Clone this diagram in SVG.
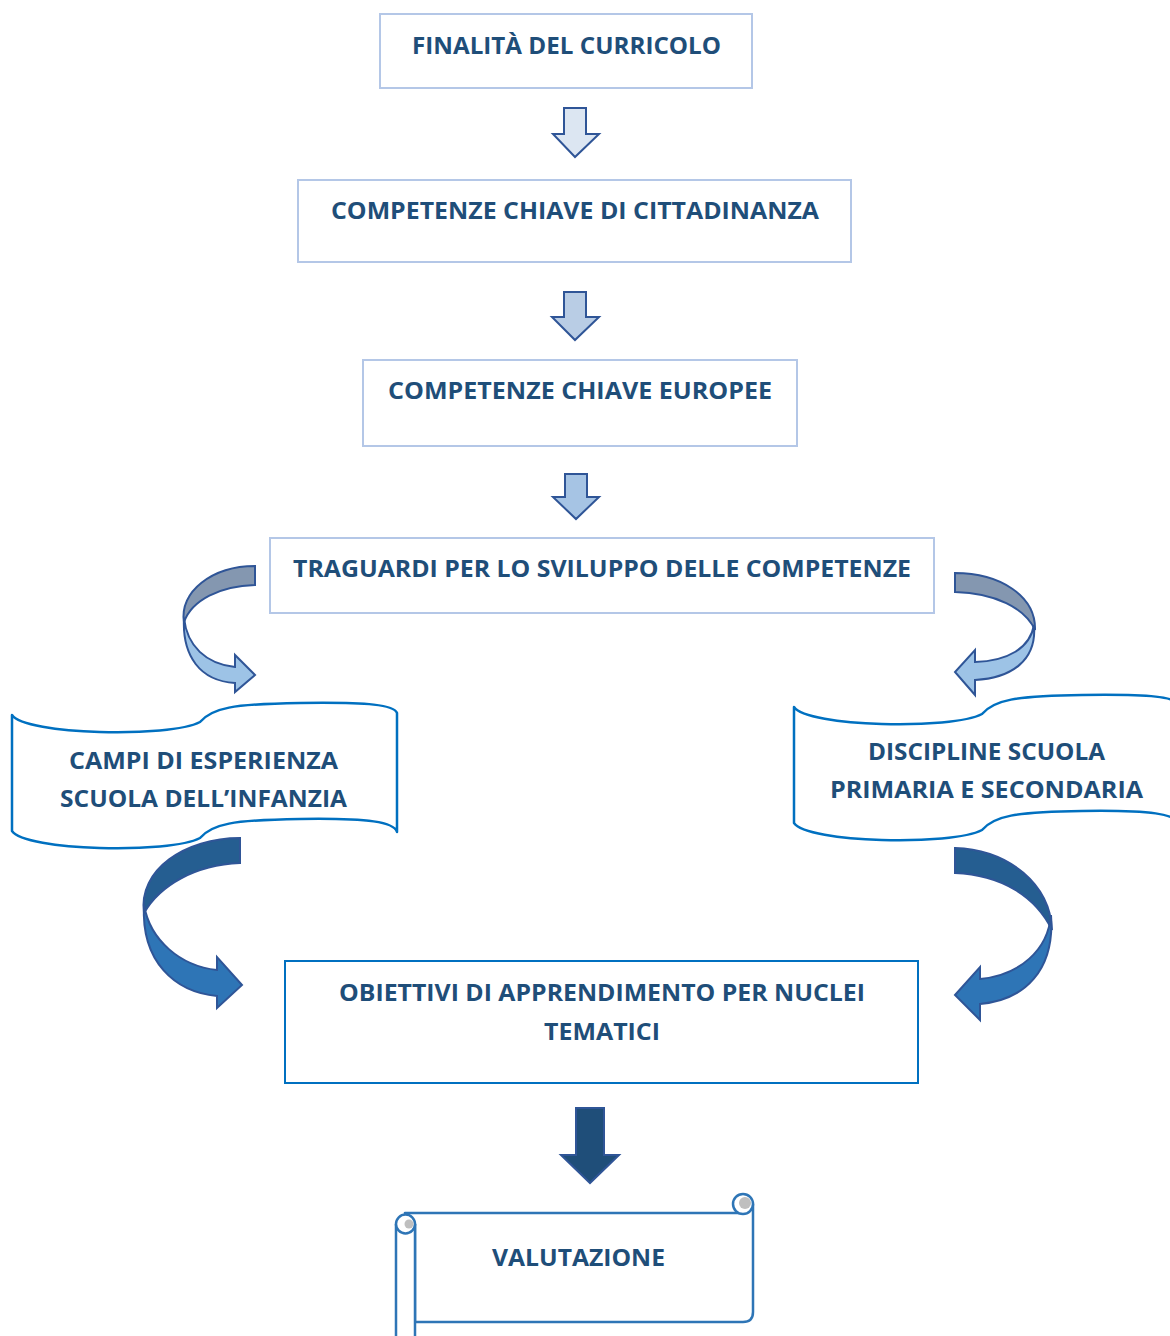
<svg xmlns="http://www.w3.org/2000/svg" width="1170" height="1336" viewBox="0 0 1170 1336">
<defs>
<style>
.lbl{font-family:"Open Sans",Lato,"Liberation Sans",sans-serif;font-weight:bold;font-size:23px;fill:#1F4E79;text-anchor:middle}
.box{fill:#fff;stroke:#B4C7E7;stroke-width:2}
.box2{fill:#fff;stroke:#0070C0;stroke-width:2}
.wave{fill:#fff;stroke:#0070C0;stroke-width:2.5;stroke-linejoin:round}
.arr{stroke:#2F5597;stroke-width:2;stroke-linejoin:miter}
.scroll{fill:#fff;stroke:#2E75B6;stroke-width:2.5;stroke-linejoin:round}
</style>
<path id="wavePath" d="M12,715 C25,735 170,738 200,722 C212,708 232,704 300,703 C370,702 394,705 397,713 L397,832 C394,822 370,818 300,819 C232,820 212,824 200,838 C170,854 25,851 12,831 Z"/>
</defs>
<rect width="1170" height="1336" fill="#fff"/>

<g id="connectors">
<path class="arr" fill="#DCE6F2" d="M564,108 L586,108 L586,134 L599,134 L575,157 L553,134 L564,134 Z"/>
<path class="arr" fill="#B9CDE5" d="M564,292 L586,292 L586,317 L599,317 L575,340 L552,317 L564,317 Z"/>
<path class="arr" fill="#A6C4E4" d="M565,474 L587,474 L587,497 L599,497 L576,519 L553,497 L565,497 Z"/>
<path class="arr" fill="#1F4E79" d="M576,1108 L604,1108 L604,1155 L619,1155 L590,1183 L561,1155 L576,1155 Z"/>

<path class="arr" fill="#8497B0" d="M255,566 L255,585 C220,586 192,600 184,622 C179,592 212,566 255,566 Z"/>
<path class="arr" fill="#9DC3E6" d="M184,618 C187,646 206,664 235,667 L235,655 L255,675 L235,692 L235,683 C200,681 182,656 184,618 Z"/>

<path class="arr" fill="#8497B0" d="M955,573 C1000,573 1036,596 1035,630 C1025,608 995,593 955,592 Z"/>
<path class="arr" fill="#9DC3E6" d="M1034,625 C1030,648 1008,661 975,662 L975,650 L955,672 L975,695 L975,680 C1012,678 1037,660 1034,625 Z"/>

<path class="arr" fill="#255E91" d="M240,838 L240,863 C195,865 160,885 144,913 C138,870 185,838 240,838 Z"/>
<path class="arr" fill="#2E75B6" d="M144,905 C150,940 180,966 217,970 L217,957 L242,985 L217,1008 L217,996 C175,992 141,962 144,905 Z"/>

<path class="arr" fill="#255E91" d="M955,848 C1010,850 1050,885 1052,930 C1035,895 1000,875 955,873 Z"/>
<path class="arr" fill="#2E75B6" d="M1051,915 C1048,950 1020,975 980,979 L980,967 L955,995 L980,1020 L980,1004 C1025,1000 1055,970 1051,915 Z"/>
</g>

<g id="n1">
<rect class="box" x="380" y="14" width="372" height="74"/>
<text class="lbl" x="566.5" y="54" textLength="309" lengthAdjust="spacingAndGlyphs">FINALITÀ DEL CURRICOLO</text>
</g>
<g id="n2">
<rect class="box" x="298" y="180" width="553" height="82"/>
<text class="lbl" x="575" y="219" textLength="488" lengthAdjust="spacingAndGlyphs">COMPETENZE CHIAVE DI CITTADINANZA</text>
</g>
<g id="n3">
<rect class="box" x="363" y="360" width="434" height="86"/>
<text class="lbl" x="580" y="399" textLength="384" lengthAdjust="spacingAndGlyphs">COMPETENZE CHIAVE EUROPEE</text>
</g>
<g id="n4">
<rect class="box" x="270" y="538" width="664" height="75"/>
<text class="lbl" x="602" y="577" textLength="618" lengthAdjust="spacingAndGlyphs">TRAGUARDI PER LO SVILUPPO DELLE COMPETENZE</text>
</g>
<g id="n5">
<use href="#wavePath" class="wave"/>
<text class="lbl" x="203.5" y="769" textLength="269" lengthAdjust="spacingAndGlyphs">CAMPI DI ESPERIENZA</text>
<text class="lbl" x="203.5" y="807" textLength="287" lengthAdjust="spacingAndGlyphs">SCUOLA DELL’INFANZIA</text>
</g>
<g id="n6">
<use href="#wavePath" class="wave" transform="translate(782,-8)"/>
<text class="lbl" x="986.5" y="760" textLength="237" lengthAdjust="spacingAndGlyphs">DISCIPLINE SCUOLA</text>
<text class="lbl" x="986.5" y="798" textLength="313" lengthAdjust="spacingAndGlyphs">PRIMARIA E SECONDARIA</text>
</g>
<g id="n7">
<rect class="box2" x="285" y="961" width="633" height="122"/>
<text class="lbl" x="602" y="1001" textLength="526" lengthAdjust="spacingAndGlyphs">OBIETTIVI DI APPRENDIMENTO PER NUCLEI</text>
<text class="lbl" x="602" y="1040" textLength="116" lengthAdjust="spacingAndGlyphs">TEMATICI</text>
</g>
<g id="n8">
<path class="scroll" d="M405,1213 L743,1213 L753,1204 L753,1312 Q753,1322 743,1322 L415,1322 L415,1224 Z"/>
<circle class="scroll" cx="743" cy="1204" r="10"/>
<circle cx="745" cy="1203" r="6" fill="#BFBFBF"/>
<path class="scroll" d="M396,1224 L396,1345 L415,1345 L415,1224"/>
<circle class="scroll" cx="405.5" cy="1224" r="9.5"/>
<circle cx="409" cy="1224" r="4.5" fill="#BFBFBF"/>
<text class="lbl" x="578.5" y="1266" textLength="173" lengthAdjust="spacingAndGlyphs">VALUTAZIONE</text>
</g>
</svg>
